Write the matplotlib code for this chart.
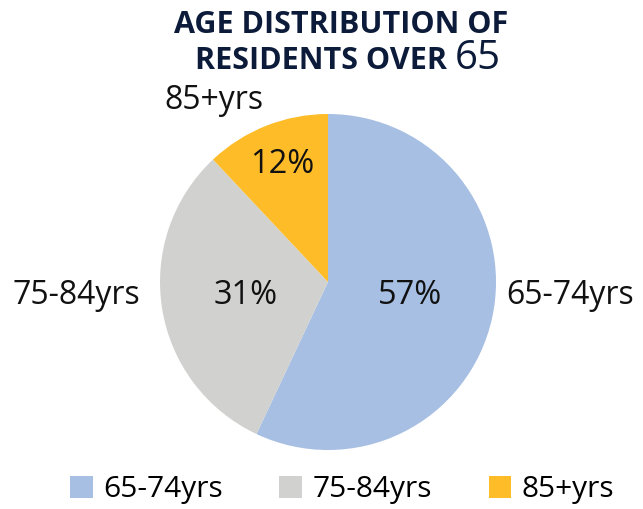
import matplotlib
matplotlib.use("Agg")
import matplotlib.pyplot as plt
from matplotlib.patches import Patch

categories = ["65-74yrs", "75-84yrs", "85+yrs"]
shares = [57, 31, 12]
colors = ["#A7BFE3", "#D1D2D0", "#FDBC28"]
title_color = "#0C1B3A"

plt.rcParams["font.family"] = ["Open Sans", "DejaVu Sans"]

W, H = 643, 509
cx, cy, r = 328, 282, 168
fig = plt.figure(figsize=(W / 100, H / 100), dpi=100)
ax = fig.add_axes([(cx - r) / W, (H - cy - r) / H, 2 * r / W, 2 * r / H])

wedges, _ = ax.pie(shares, colors=colors, startangle=90, counterclock=False,
                   radius=1.0)
ax.set_xlim(-1, 1)
ax.set_ylim(-1, 1)
ax.set_aspect("auto")
ax.axis("off")

# percent labels inside and category labels outside (data coords, radius = 1)
pct_pos = [(0.49, -0.08), (-0.49, -0.08), (-0.27, 0.70)]
lab_pos = [(1.44, -0.08), (-1.50, -0.08), (-0.68, 1.08)]
for val, name, (px, py), (lx, ly) in zip(shares, categories, pct_pos, lab_pos):
    ax.text(px, py, f"{val}%", ha="center", va="center", fontsize=23.5,
            color="#111111", clip_on=False)
    ax.text(lx, ly, name, ha="center", va="center", fontsize=23,
            color="#111111", clip_on=False)

# title, with the larger "65"
fig.text(341 / W, 1 - 25 / H, "AGE DISTRIBUTION OF", ha="center", va="center",
         fontsize=22, fontweight="bold", color=title_color)
fig.text(447 / W, 1 - 61 / H, "RESIDENTS OVER", ha="right", va="center",
         fontsize=22, fontweight="bold", color=title_color)
fig.text(455 / W, 1 - 59 / H, "65", ha="left", va="center",
         fontsize=29, color=title_color)

handles = [Patch(facecolor=c, edgecolor="none") for c in colors]
fig.legend(handles, categories, loc="center", ncol=3,
           bbox_to_anchor=(0.532, 1 - 490 / H), frameon=False, fontsize=21.5,
           handlelength=0.75, handleheight=0.75, handletextpad=0.35,
           columnspacing=1.9)

fig.savefig("out.png", dpi=100)
